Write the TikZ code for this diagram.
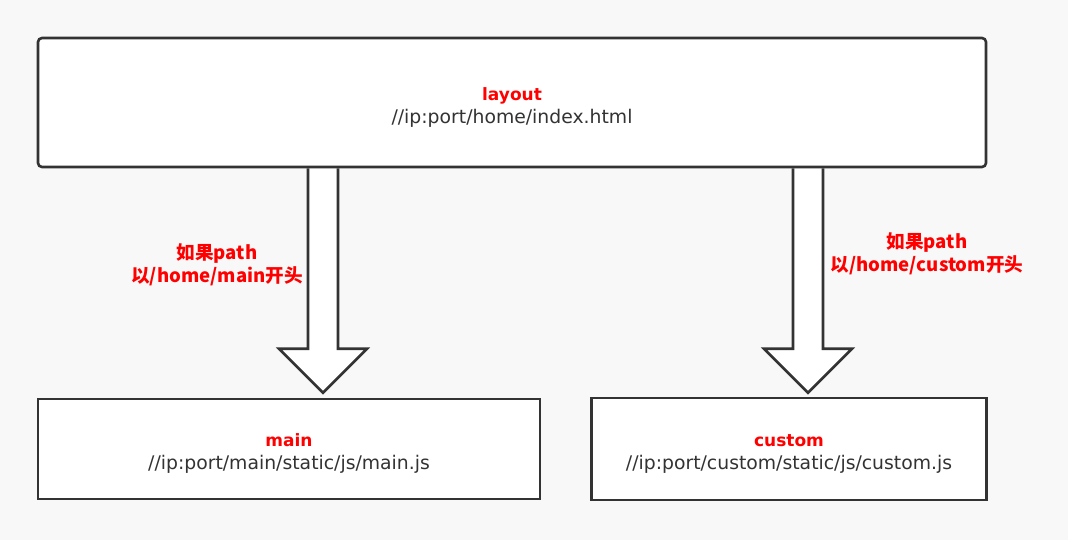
\documentclass[tikz,border=0pt]{standalone}
\usepackage{fontspec}
\setmainfont{DejaVu Sans}
\newfontfamily\cjk{Noto Sans CJK SC}
\usetikzlibrary{calc,backgrounds}
\definecolor{bgcol}{HTML}{F8F8F8}
\definecolor{linecol}{HTML}{333333}
\definecolor{redcol}{HTML}{FF0000}
\tikzset{
  box/.style={draw=linecol,line width=2.6pt,fill=white,align=center,
    text=linecol,font=\fontsize{18.8}{23}\selectfont},
  barrow/.style={draw=linecol,line width=2.6pt,fill=white,line join=miter},
  lbl/.style={align=center,text=redcol,font=\cjk\bfseries\fontsize{18.6}{23.5}\selectfont}
}
\newcommand{\hd}[1]{\rule{0pt}{22pt}\textcolor{redcol}{\bfseries\fontsize{17}{23}\selectfont #1}}
% wide arrow from a point on one box edge down to a tip
\newcommand{\blockarrow}[2]{%
  \draw[barrow] ($(#1)+(-15,0)$) -- ($(#2)+(-15,-44)$) -- ($(#2)+(-44,-44)$)
    -- (#2) -- ($(#2)+(44,-44)$) -- ($(#2)+(15,-44)$) -- ($(#1)+(15,0)$);
}

\begin{document}
\begin{tikzpicture}[x=1pt,y=-1pt]
  \useasboundingbox (0,0) rectangle (1068,540);
  \node[box,rounded corners=4pt,minimum width=948,minimum height=129] (layout) at (512,102.5)
    {\hd{layout}\\//ip:port/home/index.html};
  \node[box,minimum width=502,minimum height=100] (main) at (289,449)
    {\hd{main}\\//ip:port/main/static/js/main.js};
  \node[box,minimum width=395,minimum height=102] (custom) at (789,449)
    {\hd{custom}\\//ip:port/custom/static/js/custom.js};

  \node[lbl] (mainlbl) at (217,265) {如果path\\以/home/main开头};
  \node[lbl] (customlbl) at (927,254) {如果path\\以/home/custom开头};

  \coordinate (mainx) at (323,0);
  \coordinate (customx) at (808,0);
  \coordinate (maintip) at ($(main.north -| mainx)+(0,-5)$);
  \coordinate (customtip) at ($(custom.north -| customx)+(0,-4)$);

  \begin{pgfonlayer}{background}
    \fill[bgcol] (0,0) rectangle (1068,540);
    \blockarrow{layout.south -| mainx}{maintip}
    \blockarrow{layout.south -| customx}{customtip}
  \end{pgfonlayer}
\end{tikzpicture}
\end{document}
